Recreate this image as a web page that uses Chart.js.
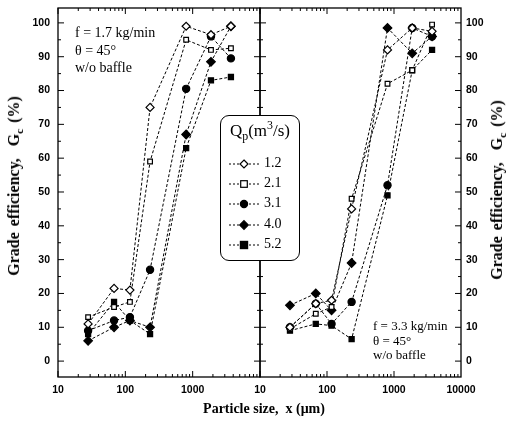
<!DOCTYPE html>
<html lang="en">
<head>
<meta charset="UTF-8">
<title>Grade efficiency vs particle size</title>
<script src="https://cdn.jsdelivr.net/npm/chart.js@4.4.1/dist/chart.umd.min.js"></script>
<style>
  body { margin: 0; background: #fff; }
  #wrap { position: relative; width: 511px; height: 426px; background: #fff; overflow: hidden; }
  #wrap canvas { position: absolute; left: 0; top: 0; }
  .txt { position: absolute; font-family: "Liberation Serif", serif; color: #000; white-space: nowrap; }
  .ytitle { font-weight: bold; font-size: 16px; word-spacing: 2px; transform: translate(-50%, -50%) rotate(-90deg); }
  .xtitle { font-weight: bold; font-size: 14px; transform: translateX(-50%); }
  #legend { position: absolute; left: 220px; top: 115px; width: 78px; height: 144px;
            border: 1.5px solid #000; border-radius: 9px; background: #fff; }
  #legend .head { position: absolute; left: 0; width: 78px; top: 5px; text-align: center;
                  font-family: "Liberation Serif", serif; font-size: 17px; }
  #legend .row { position: absolute; left: 6px; height: 14px; }
  #legend .row span { position: absolute; left: 37px; top: -2px; font-family: "Liberation Serif", serif; font-size: 14px; }
  sub, sup { font-size: 70%; line-height: 0; }
</style>
</head>
<body>
<div id="wrap">
  <canvas id="left" width="511" height="426"></canvas>
  <canvas id="right" width="511" height="426"></canvas>

  <div class="txt" style="left:75px; top:24px; font-size:14px; line-height:17.5px;">f = 1.7 kg/min<br>θ = 45°<br>w/o baffle</div>
  <div class="txt" style="left:373px; top:319px; font-size:13px; line-height:14.5px;">f = 3.3 kg/min<br>θ = 45°<br>w/o baffle</div>

  <div class="txt ytitle" style="left:14px; top:186px;">Grade efficiency,&nbsp; G<sub>c</sub> (%)</div>
  <div class="txt ytitle" style="left:497px; top:190px;">Grade efficiency,&nbsp; G<sub>c</sub> (%)</div>
  <div class="txt xtitle" style="left:264px; top:401px;">Particle size,&nbsp; x (μm)</div>

  <div id="legend">
    <div class="head">Q<sub>p</sub>(m<sup>3</sup>/s)</div>
  </div>
</div>

<script>
// particle size classes (um)
const sizes = [28, 68, 117, 233, 800, 1870, 3700];
const flowLabels = ['1.2', '2.1', '3.1', '4.0', '5.2'];

// f = 1.7 kg/min
const left12 = [11, 21.5, 21, 75, 99, 96.5, 99];
const left21 = [13, 16, 17.5, 59, 95, 92, 92.5];
const left31 = [9, 12, 13, 27, 80.5, 96, 89.5];
const left40 = [6, 10, 12, 10, 67, 88.5, 99];
const left52 = [8, 17.5, 12, 8, 63, 83, 84];

// f = 3.3 kg/min
const right12 = [10, 17, 18, 45, 92, 98.5, 97.5];
const right21 = [9.5, 14, 16, 48, 82, 86, 99.5];
const right31 = [10, 17, 11, 17.5, 52, 98.5, 96];
const right40 = [16.5, 20, 15, 29, 98.5, 91, 96];
const right52 = [9, 11, 10.5, 6.5, 49, 86, 92];

const xTicks = [10, 100, 1000, 10000];
const yTicks = [0, 10, 20, 30, 40, 50, 60, 70, 80, 90, 100];

const markers = [
  { style: 'rectRot', radius: 4, fill: '#fff' },
  { style: 'rect', radius: 3.3, fill: '#fff' },
  { style: 'circle', radius: 3.6, fill: '#000' },
  { style: 'rectRot', radius: 4.3, fill: '#000' },
  { style: 'rect', radius: 3.6, fill: '#000' }
];

function makeSets(seriesList) {
  return seriesList.map((vals, i) => ({
    label: flowLabels[i],
    data: vals.map((v, k) => ({ x: sizes[k], y: v })),
    showLine: true,
    borderColor: '#000',
    borderWidth: 1,
    borderDash: [3, 2],
    pointStyle: markers[i].style,
    pointRadius: markers[i].radius,
    pointBackgroundColor: markers[i].fill,
    pointBorderColor: '#000',
    pointBorderWidth: 1.2
  }));
}

// frame with inward ticks, drawn like the original plot
const frameTicks = {
  id: 'frameTicks',
  afterDraw(chart) {
    const { ctx, chartArea: a, scales } = chart;
    ctx.save();
    ctx.strokeStyle = '#000';
    ctx.lineWidth = 1.3;
    ctx.strokeRect(a.left, a.top, a.right - a.left, a.bottom - a.top);
    ctx.lineWidth = 1;
    ctx.beginPath();
    for (let d = 10; d < 10000; d *= 10) {
      for (let m = 1; m < 10; m++) {
        const px = scales.x.getPixelForValue(d * m);
        const len = m === 1 ? 6 : 3;
        ctx.moveTo(px, a.bottom); ctx.lineTo(px, a.bottom - len);
        ctx.moveTo(px, a.top); ctx.lineTo(px, a.top + len);
      }
    }
    for (let v = 0; v <= 100; v += 5) {
      const py = scales.y.getPixelForValue(v);
      const len = v % 10 === 0 ? 6 : 3;
      ctx.moveTo(a.left, py); ctx.lineTo(a.left + len, py);
      ctx.moveTo(a.right, py); ctx.lineTo(a.right - len, py);
    }
    ctx.stroke();
    ctx.restore();
  }
};

const tickFont = { family: '"Liberation Sans", Arial, sans-serif', size: 10.5, weight: 'bold' };

function makeChart(id, seriesList, side) {
  const isLeft = side === 'left';
  return new Chart(document.getElementById(id), {
    type: 'scatter',
    data: { datasets: makeSets(seriesList) },
    options: {
      responsive: false,
      animation: false,
      devicePixelRatio: 1,
      layout: { padding: isLeft ? { left: 0, right: 251, top: 8, bottom: 0 }
                                : { left: 260, right: 0, top: 8, bottom: 0 } },
      plugins: { legend: { display: false }, tooltip: { enabled: false } },
      scales: {
        x: {
          type: 'logarithmic',
          min: 10, max: 10000,
          grid: { display: false, drawTicks: false },
          border: { display: false },
          afterBuildTicks: s => { s.ticks = (isLeft ? xTicks.slice(0, 3) : xTicks).map(v => ({ value: v })); },
          afterFit: s => { s.height = 49; s.paddingLeft = 0; s.paddingRight = 0; },
          ticks: { color: '#000', font: tickFont, padding: 7, maxRotation: 0, autoSkip: false,
                   callback: v => String(v) }
        },
        y: {
          position: isLeft ? 'left' : 'right',
          min: -4.7, max: 104.4,
          grid: { display: false, drawTicks: false },
          border: { display: false },
          afterBuildTicks: s => { s.ticks = yTicks.map(v => ({ value: v })); },
          afterFit: s => { s.width = isLeft ? 58 : 50; s.paddingTop = 0; s.paddingBottom = 0; },
          ticks: { color: '#000', font: tickFont, padding: isLeft ? 8 : 5 }
        }
      }
    },
    plugins: [frameTicks]
  });
}

makeChart('left', [left12, left21, left31, left40, left52], 'left');
makeChart('right', [right12, right21, right31, right40, right52], 'right');

// legend rows with small marker glyphs
const legend = document.getElementById('legend');
const rowTops = [41, 61, 81, 102, 122];
flowLabels.forEach((lab, i) => {
  const row = document.createElement('div');
  row.className = 'row';
  row.style.top = rowTops[i] + 'px';
  const m = markers[i];
  let shape;
  if (m.style === 'circle') shape = `<circle cx="17" cy="7" r="3.6" fill="${m.fill}" stroke="#000" stroke-width="1.2"/>`;
  else if (m.style === 'rect') shape = `<rect x="${17 - m.radius}" y="${7 - m.radius}" width="${2 * m.radius}" height="${2 * m.radius}" fill="${m.fill}" stroke="#000" stroke-width="1.2"/>`;
  else shape = `<polygon points="17,${7 - m.radius} ${17 + m.radius},7 17,${7 + m.radius} ${17 - m.radius},7" fill="${m.fill}" stroke="#000" stroke-width="1.2"/>`;
  row.innerHTML = `<svg width="34" height="14" style="position:absolute;left:0;top:0">
      <line x1="2" y1="7" x2="32" y2="7" stroke="#000" stroke-width="1" stroke-dasharray="2,2"/>${shape}</svg>
      <span>${lab}</span>`;
  legend.appendChild(row);
});
</script>
</body>
</html>
